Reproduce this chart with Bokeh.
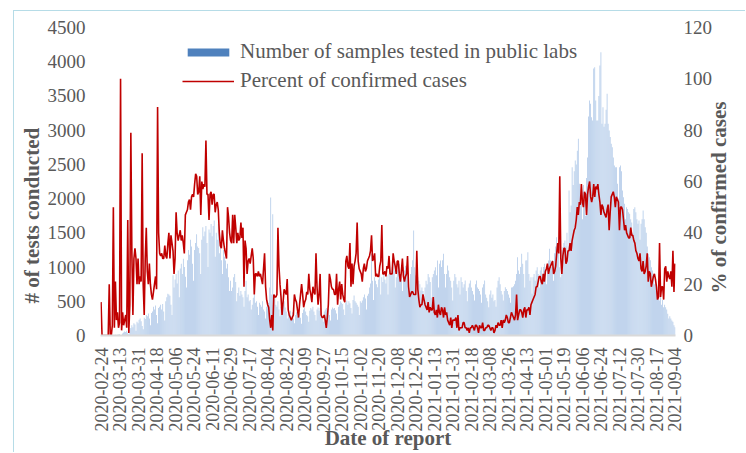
import math
import pandas as pd
from bokeh.plotting import figure
from bokeh.models import (Range1d, LinearAxis, FixedTicker, Legend, LegendItem,
                          ColumnDataSource)
from bokeh.embed import file_html
from bokeh.resources import INLINE

start_date = "2020-02-24"
end_date = "2021-09-04"

tick_labels = ["2020-02-24", "2020-03-13", "2020-03-31", "2020-04-18", "2020-05-06",
               "2020-05-24", "2020-06-11", "2020-06-29", "2020-07-17", "2020-08-04",
               "2020-08-22", "2020-09-09", "2020-09-27", "2020-10-15", "2020-11-02",
               "2020-11-20", "2020-12-08", "2020-12-26", "2021-01-13", "2021-01-31",
               "2021-02-18", "2021-03-08", "2021-03-26", "2021-04-13", "2021-05-01",
               "2021-05-19", "2021-06-06", "2021-06-24", "2021-07-12", "2021-07-30",
               "2021-08-17", "2021-09-04"]

# Number of samples tested in public labs (daily)
samples_tested = [
    0, 0, 0, 0, 5, 0, 0,
    0, 6, 0, 0, 10, 4, 0,
    12, 8, 10, 15, 20, 8, 5,
    30, 45, 60, 50, 70, 40, 20,
    90, 110, 150, 120, 180, 160, 70,
    200, 180, 230, 250, 210, 140, 90,
    260, 240, 300, 280, 320, 250, 150,
    330, 350, 420, 380, 440, 300, 180,
    400, 420, 450, 380, 460, 350, 220,
    500, 560, 610, 600, 580, 450, 300,
    880, 700, 820, 900, 760, 950, 560,
    980, 1050, 900, 1120, 1000, 860, 700,
    1100, 1250, 1180, 1400, 1300, 1050, 800,
    1250, 1350, 1480, 1300, 1280, 1200, 900,
    1400, 1580, 1450, 1520, 1600, 1350, 1000,
    1550, 1500, 1630, 1450, 1600, 1680, 1150,
    1500, 1400, 1630, 1200, 1300, 1100, 900,
    1250, 1150, 1096, 980, 1050, 850, 650,
    800, 650, 700, 850, 900, 780, 500,
    620, 700, 580, 650, 600, 560, 420,
    650, 800, 560, 600, 500, 520, 380,
    450, 550, 600, 480, 500, 420, 300,
    480, 450, 420, 500, 380, 350, 250,
    420, 510, 480, 700, 2015, 600, 1770,
    500, 600, 450, 420, 500, 380, 280,
    420, 380, 450, 500, 410, 350, 250,
    320, 300, 360, 280, 340, 250, 180,
    300, 340, 280, 360, 320, 260, 170,
    330, 380, 400, 350, 300, 280, 200,
    360, 400, 380, 420, 350, 300, 220,
    380, 410, 360, 400, 330, 280, 200,
    350, 380, 400, 370, 390, 300, 220,
    380, 410, 390, 400, 370, 320, 230,
    420, 450, 500, 480, 460, 380, 300,
    480, 511, 450, 500, 470, 400, 320,
    520, 584, 500, 480, 450, 420, 300,
    500, 480, 511, 560, 600, 540, 380,
    580, 609, 700, 760, 1193, 800, 520,
    852, 800, 750, 706, 820, 900, 600,
    850, 780, 900, 820, 760, 880, 600,
    900, 950, 880, 1000, 1096, 950, 700,
    852, 950, 1000, 1047, 900, 850, 650,
    1000, 950, 1020, 900, 980, 850, 650,
    900, 1000, 1100, 1534, 998, 880, 600,
    852, 800, 750, 657, 700, 650, 500,
    700, 800, 750, 900, 850, 780, 550,
    850, 900, 950, 998, 880, 1096, 700,
    1050, 1096, 1000, 1100, 1193, 900, 700,
    900, 1023, 950, 850, 800, 700, 511,
    800, 900, 850, 750, 700, 800, 600,
    852, 780, 700, 750, 804, 650, 500,
    700, 760, 804, 700, 650, 600, 511,
    750, 804, 700, 680, 650, 600, 480,
    700, 750, 804, 600, 550, 500, 414,
    600, 657, 550, 600, 500, 520, 420,
    700, 800, 852, 750, 650, 600, 511,
    650, 706, 680, 650, 600, 550, 480,
    700, 706, 720, 750, 800, 900, 1145,
    950, 900, 1000, 1193, 1050, 900, 700,
    1096, 1100, 1218, 900, 800, 850, 609,
    850, 900, 800, 950, 998, 900, 700,
    950, 998, 900, 1000, 1047, 950, 750,
    1050, 1096, 1266, 1100, 1000, 1096, 800,
    1200, 1300, 1437, 1339, 1200, 998, 850,
    1250, 1291, 1350, 1388, 1300, 1500, 1200,
    2119, 1800, 1900, 2459, 2200, 2400, 2557,
    2500, 2700, 2874, 2216, 2000, 1950, 1700,
    2200, 2000, 1750, 2300, 2600, 3200, 3434,
    3385, 3190, 3141, 3900, 3920, 3434, 3141,
    3141, 3500, 3945, 4140, 3092, 3336, 3050,
    3092, 3300, 3531, 3092, 2995, 2900, 2800,
    2752, 2600, 2484, 2459, 2459, 2216, 2000,
    2459, 2484, 2400, 2119, 2021, 1924, 1700,
    1875, 1850, 1800, 1777, 1700, 1650, 1500,
    1850, 1875, 1800, 1700, 1631, 1680, 1400,
    1631, 1700, 1826, 1700, 1583, 1500, 1300,
    1193, 1144, 1100, 998, 950, 900, 750,
    850, 706, 650, 600, 511, 706, 450,
    520, 414, 450, 414, 380, 317, 250,
    280, 250, 219, 200, 150, 122,
]

# Percent of confirmed cases (daily)
percent_confirmed = [
    13, 0, 0, 0, 0, 0, 0,
    0, 20, 0, 0, 4, 50, 3,
    21, 6, 9, 3, 5, 100, 2,
    9, 4, 6, 8, 3, 45, 1,
    12, 79, 32, 8, 30, 34, 30,
    20, 30, 20, 23, 21, 71, 20,
    8, 30, 42, 25, 20, 28, 20,
    16, 14, 17, 20, 23, 18, 89,
    40, 32, 31, 32, 30, 30, 35,
    31, 30, 36, 40, 30, 39, 36,
    33, 24, 30, 48, 40, 37, 39,
    41, 37, 39, 36, 32, 47, 48,
    49, 52, 53, 49, 54, 55, 54,
    59, 63, 62, 55, 56, 62, 47,
    60, 57, 59, 58, 76, 55, 55,
    45, 55, 56, 51, 55, 55, 48,
    51, 52, 49, 40, 35, 34, 41,
    37, 34, 32, 30, 50, 46, 40,
    37, 36, 47, 36, 47, 42, 36,
    40, 37, 38, 44, 38, 42, 19,
    37, 34, 24, 29, 30, 28, 31,
    34, 30, 16, 24, 24, 23, 25,
    23, 24, 22, 20, 26, 32, 19,
    14, 12, 11, 6, 3, 8, 2,
    16, 15, 15, 16, 42, 27, 20,
    15, 8, 13, 18, 17, 16, 22,
    10, 8, 7, 6, 7, 8, 16,
    14, 13, 10, 7, 12, 16, 20,
    16, 11, 13, 14, 17, 16, 24,
    18, 16, 13, 19, 17, 16, 32,
    19, 12, 16, 24, 8, 7, 7,
    8, 6, 3, 7, 12, 24, 22,
    19, 18, 18, 16, 16, 24, 12,
    18, 21, 14, 20, 16, 14, 13,
    29, 31, 27, 26, 36, 19, 28,
    20, 27, 29, 32, 44, 29, 26,
    25, 24, 21, 26, 28, 25, 26,
    29, 30, 31, 33, 39, 29, 30,
    32, 23, 24, 23, 23, 27, 29,
    43, 24, 24, 25, 23, 27, 26,
    31, 24, 24, 24, 32, 29, 27,
    24, 29, 29, 24, 21, 25, 30,
    23, 21, 23, 24, 31, 19, 15,
    16, 17, 17, 16, 16, 16, 33,
    18, 14, 11, 12, 12, 16, 14,
    12, 11, 10, 13, 9, 11, 10,
    10, 15, 9, 8, 10, 7, 12,
    9, 8, 11, 10, 7, 11, 8,
    9, 6, 5, 4, 7, 3, 6,
    6, 6, 7, 3, 8, 2, 3,
    3, 3, 5, 5, 3, 3, 2,
    3, 1, 3, 3, 4, 3, 2,
    4, 4, 3, 1, 4, 3, 3,
    5, 2, 2, 3, 3, 4, 4,
    3, 2, 3, 3, 1, 2, 4,
    3, 5, 4, 4, 6, 3, 6,
    5, 6, 8, 7, 5, 5, 7,
    9, 8, 7, 6, 8, 16, 6,
    8, 10, 10, 9, 7, 10, 11,
    7, 10, 10, 11, 8, 12, 13,
    14, 15, 16, 19, 19, 21, 23,
    23, 21, 20, 24, 21, 25, 26,
    28, 24, 26, 27, 28, 29, 24,
    25, 27, 32, 36, 32, 62, 30,
    24, 31, 34, 34, 28, 29, 33,
    33, 36, 33, 37, 39, 41, 42,
    45, 50, 47, 52, 51, 59, 52,
    50, 56, 55, 47, 55, 58, 60,
    54, 52, 54, 59, 54, 58, 57,
    59, 55, 52, 47, 51, 50, 48,
    47, 46, 49, 51, 41, 48, 54,
    55, 56, 54, 50, 54, 53, 52,
    41, 50, 50, 49, 45, 41, 43,
    40, 39, 38, 38, 42, 39, 39,
    37, 36, 33, 32, 30, 29, 32,
    26, 25, 29, 24, 25, 27, 32,
    21, 25, 24, 19, 21, 23, 24,
    22, 19, 14, 15, 36, 15, 19,
    19, 14, 26, 27, 21, 25, 23,
    22, 25, 19, 33, 17, 28,
]

dates = pd.date_range(start_date, end_date, freq="D")
date_str = [d.strftime("%Y-%m-%d") for d in dates]
n = min(len(dates), len(samples_tested), len(percent_confirmed))
idx = list(range(n))

src = ColumnDataSource(dict(x=idx, tests=samples_tested[:n], pct=percent_confirmed[:n],
                            date=date_str[:n]))

FONT = "Liberation Serif"
GREY = "#595959"
NBSP = "\u00a0"

p = figure(width=732, height=442, output_backend="svg", toolbar_location=None,
           x_range=Range1d(-0.5, len(dates) - 0.5), y_range=Range1d(0, 4500),
           min_border_left=86, min_border_right=64, min_border_top=16, min_border_bottom=118)
p.margin = (10, 0, 0, 13)
p.styles = {"border-left": "1px solid #b6dce7", "border-top": "1px solid #b6dce7"}
p.outline_line_color = None
p.xgrid.visible = False
p.ygrid.visible = False
p.extra_y_ranges = {"pct": Range1d(0, 120)}

bars = p.vbar(x="x", top="tests", width=0.7, source=src, fill_color="#a9c4e6",
              line_color=None)
line = p.line(x="x", y="pct", source=src, y_range_name="pct", line_color="#c00000",
              line_width=1.6)
# legend proxy (hidden renderer of the same data, used only for the legend swatch)
proxy_bar = p.vbar(x="x", top="tests", width=0.7, source=src, fill_color="#4f81bd",
                   line_color=None, visible=False)

tick_pos = [date_str.index(t) for t in tick_labels]
xa = p.xaxis[0]
xa.ticker = FixedTicker(ticks=tick_pos)
xa.major_label_overrides = {pos: lab for pos, lab in zip(tick_pos, tick_labels)}
xa.major_label_orientation = math.pi / 2
xa.major_label_text_font = FONT
xa.major_label_text_font_size = "18px"
xa.major_label_text_color = GREY
xa.major_label_standoff = 12
xa.major_tick_line_color = None
xa.minor_tick_line_color = None
xa.major_tick_out = 0
xa.major_tick_in = 0
xa.minor_tick_out = 0
xa.axis_line_color = "#d9d9d9"
xa.axis_line_width = 2
xa.axis_label = "Date of report"
xa.axis_label_text_font = FONT
xa.axis_label_text_font_style = "bold"
xa.axis_label_text_font_size = "21px"
xa.axis_label_text_color = GREY
xa.axis_label_standoff = -8

ya = p.yaxis[0]
ya.ticker = FixedTicker(ticks=list(range(0, 4501, 500)))
ya.axis_line_color = None
ya.major_tick_line_color = None
ya.minor_tick_line_color = None
ya.major_tick_out = 0
ya.major_tick_in = 0
ya.minor_tick_out = 0
ya.major_label_text_font = FONT
ya.major_label_text_font_size = "19px"
ya.major_label_text_color = GREY
ya.major_label_standoff = 15
ya.axis_label = "# of tests conducted" + NBSP * 13
ya.axis_label_text_font = FONT
ya.axis_label_text_font_style = "bold"
ya.axis_label_text_font_size = "21px"
ya.axis_label_text_color = GREY
ya.axis_label_standoff = 1

ra = LinearAxis(y_range_name="pct", ticker=FixedTicker(ticks=list(range(0, 121, 20))))
ra.axis_line_color = None
ra.major_tick_line_color = None
ra.minor_tick_line_color = None
ra.major_tick_out = 0
ra.major_tick_in = 0
ra.minor_tick_out = 0
ra.major_label_text_font = FONT
ra.major_label_text_font_size = "19px"
ra.major_label_text_color = GREY
ra.major_label_standoff = 8
ra.axis_label = NBSP * 8 + "% of confirmed cases"
ra.axis_label_orientation = math.pi / 2
if "axis_label_align" in ra.properties():
    ra.axis_label_align = "start"
ra.axis_label_text_font = FONT
ra.axis_label_text_font_style = "bold"
ra.axis_label_text_font_size = "21px"
ra.axis_label_text_color = GREY
ra.axis_label_standoff = 4
p.add_layout(ra, "right")

legend = Legend(items=[LegendItem(label="Number of samples tested in public labs", renderers=[proxy_bar]),
                       LegendItem(label="Percent of confirmed cases", renderers=[line])],
                location=(82, 242), orientation="vertical")
legend.glyph_width = 52
legend.glyph_height = 10
legend.label_height = 24
legend.spacing = 4
legend.padding = 0
legend.margin = 0
legend.label_standoff = 6
legend.label_text_font = FONT
legend.label_text_font_size = "21px"
legend.label_text_color = GREY
legend.border_line_alpha = 0
legend.background_fill_alpha = 0
legend.inactive_fill_alpha = 0
legend.click_policy = "none"
p.add_layout(legend)

open("out.html", "w").write(file_html(p, INLINE))
